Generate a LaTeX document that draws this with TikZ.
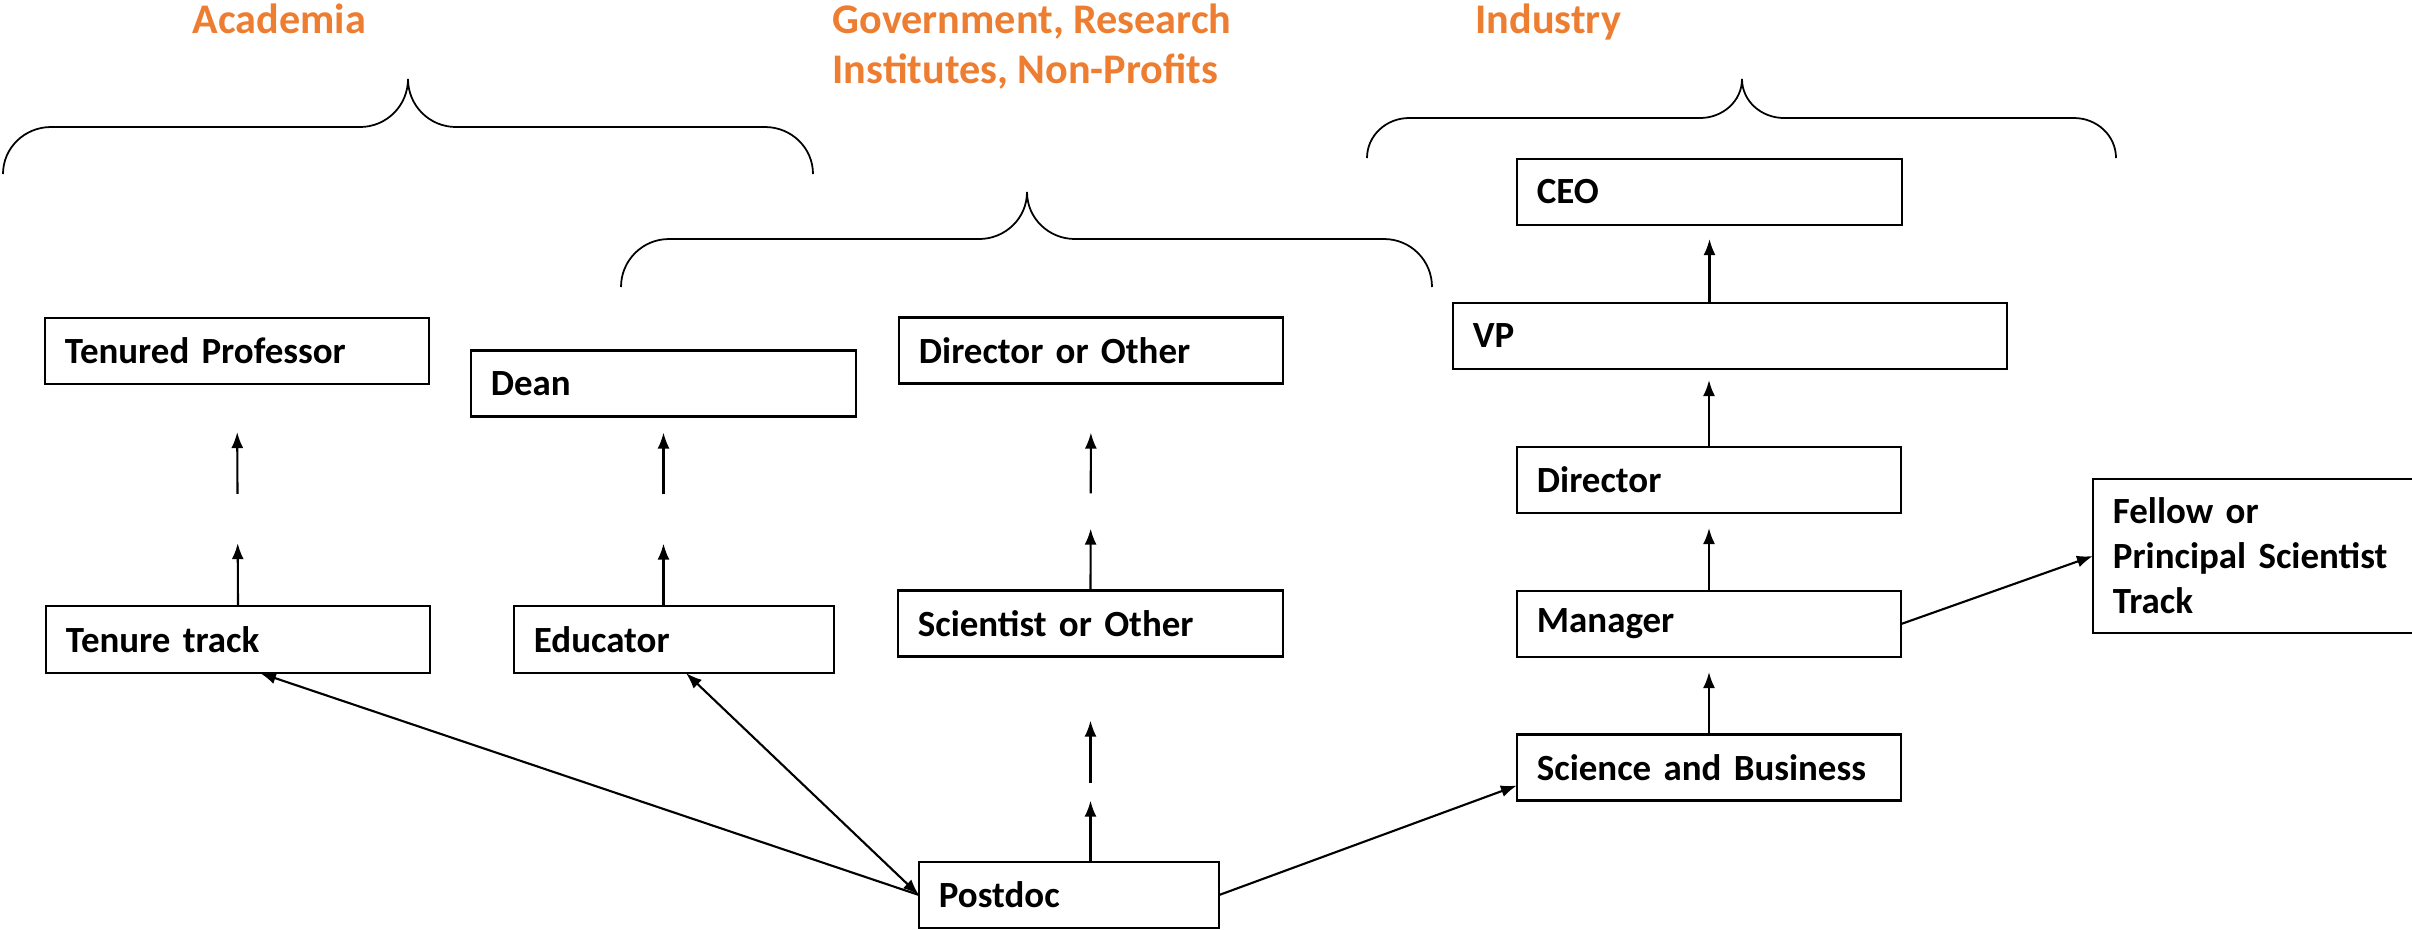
\documentclass[tikz,border=0pt]{standalone}
\usepackage{fontspec}
\setmainfont{Carlito}
\usetikzlibrary{arrows.meta}
\definecolor{sectororange}{RGB}{237,125,49}
\tikzset{
         role/.style=
          {
           draw,line width=0.6pt,inner xsep=0.2cm,inner ysep=0pt,outer sep=0pt,
           minimum height=0.66cm,align=left,text width=#1,
           font=\fontsize{10.5}{12.8}\selectfont\bfseries
          },
         sector/.style={text=sectororange,anchor=base west,inner sep=0pt,align=left,font=\fontsize{12}{14.2}\selectfont\bfseries},
         up/.style={line width=0.6pt,-{Latex[length=0.16cm,width=0.12cm]}},
         both/.style={line width=0.6pt,{Latex[length=0.16cm,width=0.12cm]}-{Latex[length=0.16cm,width=0.12cm]}},
         curly/.style={line width=0.5pt}
        }
\begin{document}
\begin{tikzpicture}[x=0.01cm,y=-0.01cm]
\useasboundingbox (0,0) rectangle (2412,929);
%sectors
\node[sector] (acad) at (192,33){Academia};
\node[sector] (gov) at (832,83){Government, Research\\Institutes, Non-Profits}; %base = last line
\node[sector] (ind) at (1475,33){Industry};
\draw[curly](3,174)to[out=90,in=180](51,127)--(360,127)to[out=0,in=-90](408,79)
  to[out=-90,in=180](456,127)--(765,127)to[out=0,in=90](813,174); %academia
\draw[curly](621,287)to[out=90,in=180](669,239)--(979,239)to[out=0,in=-90](1027,192)
  to[out=-90,in=180](1075,239)--(1384,239)to[out=0,in=90](1432,287); %government
\draw[curly](1367,158)to[out=90,in=180](1409,118)--(1700,118)to[out=0,in=-90](1742,79)
  to[out=-90,in=180](1784,118)--(2074,118)to[out=0,in=90](2116,158); %industry
%boxes
\node[role=3.44cm] (tp) at (237,351){Tenured Professor};
\node[role=3.45cm] (dean) at (663.5,383.5){Dean};
\node[role=3.44cm] (dirother) at (1091,350.5){Director or Other};
\node[role=3.44cm,minimum height=0.67cm] (tt) at (238,639.5){Tenure track};
\node[role=2.8cm,minimum height=0.67cm] (edu) at (674,639.5){Educator};
\node[role=3.45cm] (sci) at (1090.5,623.5){Scientist or Other};
\node[role=2.6cm] (postdoc) at (1069,895){Postdoc};
\node[role=3.45cm] (ceo) at (1709.5,192){CEO};
\node[role=5.14cm] (vp) at (1730,336){VP};
\node[role=3.44cm] (director) at (1709,480){Director};
\node[role=3.44cm] (manager) at (1709,624){Manager};
\node[role=3.44cm] (sb) at (1709,767.5){Science and Business};
\node[role=2.92cm,minimum height=1.54cm] (fellow) at (2259,556){Fellow or\\Principal Scientist\\Track};
%academia
\draw[up,shorten >=1.59cm](tt.north)--(tp.south);
\draw[up,shorten <=1.12cm,shorten >=0.48cm](tt.north)--(tp.south);
\draw[up,shorten >=1.27cm](dean.south |- edu.north)--(dean.south);
\draw[up,shorten <=1.12cm,shorten >=0.16cm](dean.south |- edu.north)--(dean.south);
%government
\draw[up,shorten >=1.44cm](sci.south |- postdoc.north)--(sci.south);
\draw[up,shorten <=0.79cm,shorten >=0.64cm](sci.south |- postdoc.north)--(sci.south);
\draw[up,shorten >=1.45cm](sci.north)--(dirother.south);
\draw[up,shorten <=0.97cm,shorten >=0.49cm](sci.north)--(dirother.south);
%industry
\draw[up,shorten >=0.14cm](vp.north -| ceo.south)--(ceo.south);
\draw[up,shorten >=0.11cm](director.north)--(vp.south -| director.north);
\draw[up,shorten >=0.15cm](manager.north)--(director.south);
\draw[up,shorten >=0.15cm](sb.north)--(manager.south);
\draw[up](manager.east)--(fellow.west);
%from postdoc
\draw[up](postdoc.west)--([xshift=0.22cm]tt.south);
\draw[both](postdoc.west)--([xshift=0.12cm]edu.south);
\draw[up](postdoc.east)--([yshift=-0.18cm]sb.west);
\end{tikzpicture}
\end{document}
